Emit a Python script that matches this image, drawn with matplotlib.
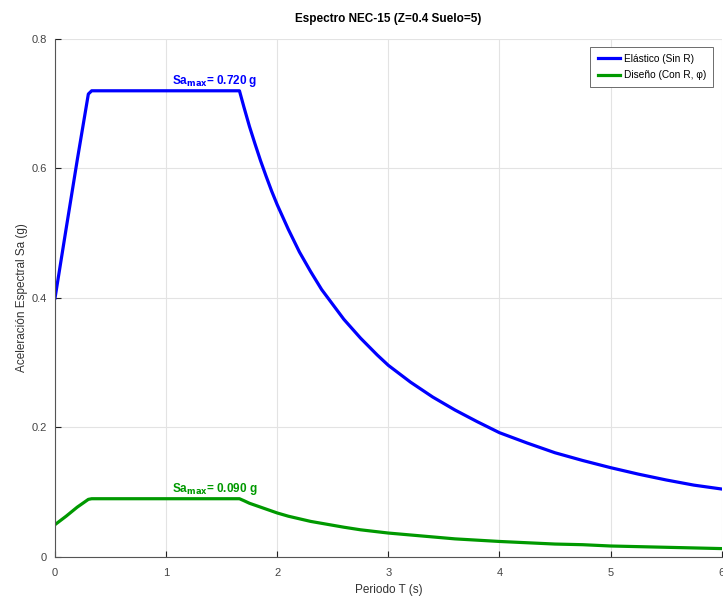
import numpy as np
import matplotlib.pyplot as plt
from matplotlib.ticker import FuncFormatter

plt.rcParams['font.family'] = ['Liberation Sans', 'DejaVu Sans']

# periodos (s)
T = [0.0, 0.1, 0.2, 0.3, 0.33, 1.0, 1.66, 1.7, 1.75, 1.8, 1.85, 1.9, 1.95, 2.0, 2.1,
     2.2, 2.3, 2.4, 2.5, 2.6, 2.75, 2.9, 3.0, 3.2, 3.4, 3.6, 3.8, 4.0, 4.25, 4.5,
     4.75, 5.0, 5.25, 5.5, 5.75, 6.0]
# espectro elastico (sin R)
sa_elastico = [0.400, 0.507, 0.613, 0.715, 0.720, 0.720, 0.720, 0.695, 0.665, 0.638,
               0.612, 0.588, 0.565, 0.544, 0.506, 0.471, 0.441, 0.413, 0.390, 0.367,
               0.338, 0.312, 0.296, 0.270, 0.247, 0.227, 0.209, 0.192, 0.176, 0.161,
               0.149, 0.138, 0.128, 0.119, 0.111, 0.105]
# espectro de diseño (con R, phi)
sa_diseno = [0.050, 0.063, 0.077, 0.089, 0.090, 0.090, 0.090, 0.087, 0.083, 0.080,
             0.077, 0.074, 0.071, 0.068, 0.063, 0.059, 0.055, 0.052, 0.049, 0.046,
             0.042, 0.039, 0.037, 0.034, 0.031, 0.028, 0.026, 0.024, 0.022, 0.020,
             0.019, 0.017, 0.016, 0.015, 0.014, 0.013]
sa_max_el = 0.720
sa_max_di = 0.090

fig = plt.figure(figsize=(7.23, 5.97), dpi=100)
ax = fig.add_axes([0.0761, 0.067, 0.922, 0.8677])

ax.plot(T, sa_elastico, color=(0, 0, 1), lw=2.3, label='Elástico (Sin R)', solid_joinstyle='round')
ax.plot(T, sa_diseno, color=(0, 0.6, 0), lw=2.3, label='Diseño (Con R, φ)', solid_joinstyle='round')

ax.text(1.05, sa_max_el + 0.003, r'Sa$_{\mathbf{max}}$= %.3f g' % sa_max_el, color=(0, 0, 1),
        fontsize=8.5, fontweight='bold', va='bottom')
ax.text(1.05, sa_max_di + 0.003, r'Sa$_{\mathbf{max}}$= %.3f g' % sa_max_di, color=(0, 0.6, 0),
        fontsize=8.5, fontweight='bold', va='bottom')

ax.set_xlim(0, 6)
ax.set_ylim(0, 0.8)
ax.set_xticks(range(7))
ax.set_yticks([0, 0.2, 0.4, 0.6, 0.8])
ax.yaxis.set_major_formatter(FuncFormatter(lambda v, p: '0' if v == 0 else '%g' % v))
ax.grid(True, color='#e3e3e3', lw=0.8)
ax.set_axisbelow(True)
ax.tick_params(direction='in', length=4, labelsize=8, labelcolor='#444444', color='#222222')
ax.tick_params(axis='x', pad=8)
ax.tick_params(axis='y', pad=6)
for s in ['top', 'right']:
    ax.spines[s].set_visible(False)
for s in ['left', 'bottom']:
    ax.spines[s].set_color('#555555')

ax.set_title('Espectro NEC-15 (Z=0.4 Suelo=5)', fontsize=8.5, fontweight='bold', pad=12)
ax.set_xlabel('Periodo T (s)', fontsize=8.5, color='#333333', labelpad=4)
ax.set_ylabel('Aceleración Espectral Sa (g)', fontsize=8.5, color='#333333')
ax.yaxis.set_label_coords(-0.041, 0.5)

leg = ax.legend(loc='upper right', bbox_to_anchor=(0.995, 0.995), fontsize=7.3,
                handlelength=2.2, handletextpad=0.4, labelspacing=0.65, fancybox=False,
                edgecolor='#555555', framealpha=1, borderpad=0.7)
leg.get_frame().set_linewidth(0.6)

plt.savefig('out.png', dpi=100)
